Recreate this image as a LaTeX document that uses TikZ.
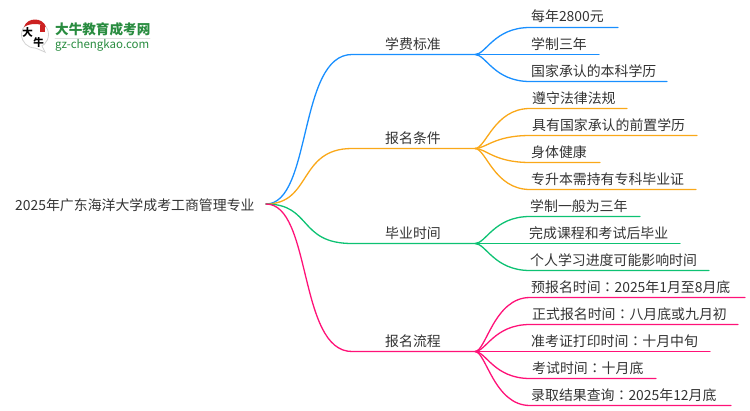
\documentclass[tikz,border=0pt]{standalone}
\usepackage{fontspec}
\setmainfont{Noto Sans CJK SC}
\newfontfamily\colonfont{Noto Sans CJK TC}
\newcommand{\midcolon}{{\colonfont ：}}
\definecolor{qqbbff}{rgb}{0.10,0.56,1.0}
\definecolor{ffaadd}{rgb}{0.98,0.66,0.10}
\definecolor{qqccgg}{rgb}{0.05,0.76,0.45}
\definecolor{ff1177}{rgb}{1.0,0.07,0.47}
\definecolor{txtgray}{rgb}{0.2,0.2,0.2}
\definecolor{logogreen}{rgb}{0.16,0.55,0.25}
\definecolor{logored}{rgb}{0.80,0.13,0.13}
\tikzset{
  leaf/.style={anchor=west,inner sep=0pt,text=txtgray,font=\fontsize{13.9pt}{14pt}\selectfont},
  link/.style={line width=1.3pt,line cap=round},
  brush/.style={inner sep=0pt,font=\fontsize{10.5pt}{11pt}\selectfont\bfseries}
}
\begin{document}
\begin{tikzpicture}[line cap=round,line join=round,x=1pt,y=-1pt]
\useasboundingbox (0,0) rectangle (750,410);
% logo
\fill[gray!35] (30,46) -- (46,53) -- (41,43) -- cycle;
\draw[gray!35,fill=white,line width=0.8pt] (35,34.5) circle (13.5);
\fill[white] (32,46) -- (44,51) -- (40,43) -- cycle;
\fill[logored] (24,27) .. controls (27,17) and (43,17) .. (46,27) .. controls (40,23) and (30,23) .. (24,27) -- cycle;
\fill[logored] (39.5,25) rectangle (44.5,32);
\node[brush] (logoda) at (27.5,32.5) {大};
\node[brush] (logoniu) at (38.5,43) {牛};
\node[anchor=west,inner sep=0pt,text=logogreen,font=\fontsize{13.6pt}{14pt}\selectfont\bfseries] (logoname) at (55,29.5) {大牛教育成考网};
\draw[gray!25,line width=0.6pt] (55,38.5)-- (150,38.5);
\node[anchor=west,inner sep=0pt,text=logogreen,font=\fontsize{11.5pt}{12pt}\selectfont] (logourl) at (55,45) {gz-chengkao.com};
% root and branches
\node[leaf] (root) at (15,205) {2025年广东海洋大学成考工商管理专业};
\coordinate (r) at (266,204);
\node[leaf] (fee) at (385,44) {学费标准};
\node[leaf] (cond) at (385,138) {报名条件};
\node[leaf] (grad) at (385,233) {毕业时间};
\node[leaf] (proc) at (385,341) {报名流程};
\coordinate (feea) at (352,54.5);
\coordinate (feeb) at (475,54.5);
\coordinate (conda) at (352,148.5);
\coordinate (condb) at (475,148.5);
\coordinate (grada) at (352,243.5);
\coordinate (gradb) at (475,243.5);
\coordinate (proca) at (352,351.5);
\coordinate (procb) at (475,351.5);
\draw[link,color=qqbbff] (r) .. controls (312,204) and (298,54.5) .. (feea) -- (feeb);
\draw[link,color=ffaadd] (r) .. controls (312,204) and (298,148.5) .. (conda) -- (condb);
\draw[link,color=qqccgg] (r) .. controls (312,204) and (298,243.5) .. (grada) -- (gradb);
\draw[link,color=ff1177] (r) .. controls (312,204) and (298,351.5) .. (proca) -- (procb);
% fee
\node[leaf] (fee1) at (531,16.5) {每年2800元};
\node[leaf] (fee2) at (531,44) {学制三年};
\node[leaf] (fee3) at (531,71) {国家承认的本科学历};
\coordinate (fee1a) at (530,27.5);
\coordinate (fee1b) at (618,27.5);
\coordinate (fee2a) at (530,54.5);
\coordinate (fee2b) at (599,54.5);
\coordinate (fee3a) at (530,81.5);
\coordinate (fee3b) at (667,81.5);
\draw[link,color=qqbbff] (feeb) .. controls (486,54.5) and (494,27.5) .. (fee1a) -- (fee1b);
\draw[link,color=qqbbff] (feeb) -- (fee2a) -- (fee2b);
\draw[link,color=qqbbff] (feeb) .. controls (486,54.5) and (494,81.5) .. (fee3a) -- (fee3b);
% cond
\node[leaf] (cond1) at (532,98) {遵守法律法规};
\node[leaf] (cond2) at (532,125) {具有国家承认的前置学历};
\node[leaf] (cond3) at (531,152) {身体健康};
\node[leaf] (cond4) at (531,179) {专升本需持有专科毕业证};
\coordinate (cond1a) at (530,108.5);
\coordinate (cond1b) at (627,108.5);
\coordinate (cond2a) at (530,135.5);
\coordinate (cond2b) at (697,135.5);
\coordinate (cond3a) at (530,162.5);
\coordinate (cond3b) at (600,162.5);
\coordinate (cond4a) at (530,189.5);
\coordinate (cond4b) at (696,189.5);
\draw[link,color=ffaadd] (condb) .. controls (486,148.5) and (494,108.5) .. (cond1a) -- (cond1b);
\draw[link,color=ffaadd] (condb) .. controls (486,148.5) and (494,135.5) .. (cond2a) -- (cond2b);
\draw[link,color=ffaadd] (condb) .. controls (486,148.5) and (494,162.5) .. (cond3a) -- (cond3b);
\draw[link,color=ffaadd] (condb) .. controls (486,148.5) and (494,189.5) .. (cond4a) -- (cond4b);
% grad
\node[leaf] (grad1) at (530,206) {学制一般为三年};
\node[leaf] (grad2) at (529,233) {完成课程和考试后毕业};
\node[leaf] (grad3) at (530,260) {个人学习进度可能影响时间};
\coordinate (grad1a) at (530,216.5);
\coordinate (grad1b) at (640,216.5);
\coordinate (grad2a) at (530,243.5);
\coordinate (grad2b) at (680,243.5);
\coordinate (grad3a) at (530,270.5);
\coordinate (grad3b) at (709,270.5);
\draw[link,color=qqccgg] (gradb) .. controls (486,243.5) and (494,216.5) .. (grad1a) -- (grad1b);
\draw[link,color=qqccgg] (gradb) -- (grad2a) -- (grad2b);
\draw[link,color=qqccgg] (gradb) .. controls (486,243.5) and (494,270.5) .. (grad3a) -- (grad3b);
% proc
\node[leaf] (proc1) at (531,287) {预报名时间\midcolon 2025年1月至8月底};
\node[leaf] (proc2) at (532,314) {正式报名时间\midcolon 八月底或九月初};
\node[leaf] (proc3) at (531,341) {准考证打印时间\midcolon 十月中旬};
\node[leaf] (proc4) at (532,368) {考试时间\midcolon 十月底};
\node[leaf] (proc5) at (531,395) {录取结果查询\midcolon 2025年12月底};
\coordinate (proc1a) at (530,297.5);
\coordinate (proc1b) at (745,297.5);
\coordinate (proc2a) at (530,324.5);
\coordinate (proc2b) at (738,324.5);
\coordinate (proc3a) at (530,351.5);
\coordinate (proc3b) at (710,351.5);
\coordinate (proc4a) at (530,378.5);
\coordinate (proc4b) at (656,378.5);
\coordinate (proc5a) at (530,405.5);
\coordinate (proc5b) at (731,405.5);
\draw[link,color=ff1177] (procb) .. controls (486,351.5) and (494,297.5) .. (proc1a) -- (proc1b);
\draw[link,color=ff1177] (procb) .. controls (486,351.5) and (494,324.5) .. (proc2a) -- (proc2b);
\draw[link,color=ff1177] (procb) -- (proc3a) -- (proc3b);
\draw[link,color=ff1177] (procb) .. controls (486,351.5) and (494,378.5) .. (proc4a) -- (proc4b);
\draw[link,color=ff1177] (procb) .. controls (486,351.5) and (494,405.5) .. (proc5a) -- (proc5b);
\end{tikzpicture}
\end{document}
